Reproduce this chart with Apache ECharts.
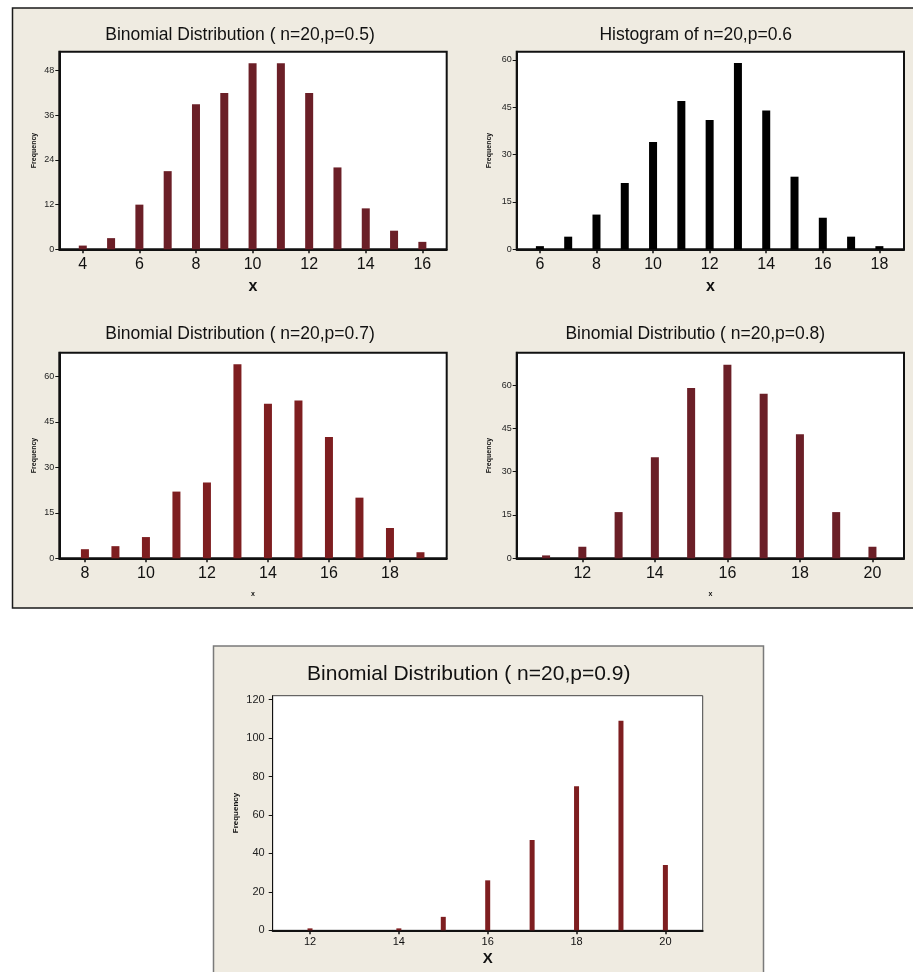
<!DOCTYPE html>
<html>
<head>
<meta charset="utf-8">
<script src="https://cdn.jsdelivr.net/npm/echarts@6/dist/echarts.min.js"></script>
<style>
html,body{margin:0;padding:0;background:#fff;}
#c{width:913px;height:972px;}
</style>
</head>
<body>
<div id="c"></div>
<script>
// ---- data ----
const x05 = [4,5,6,7,8,9,10,11,12,13,14,15,16];
const f05 = [1,3,12,21,39,42,50,50,42,22,11,5,2];
const x06 = [6,7,8,9,10,11,12,13,14,15,16,17,18];
const f06 = [1,4,11,21,34,47,41,59,44,23,10,4,1];
const x07 = [8,9,10,11,12,13,14,15,16,17,18,19];
const f07 = [3,4,7,22,25,64,51,52,40,20,10,2];
const x08 = [11,12,13,14,15,16,17,18,19,20];
const f08 = [1,4,16,35,59,67,57,43,16,4];
const x09 = [12,14,15,16,17,18,19,20];
const f09 = [1,1,7,26,47,75,109,34];

const titles = [
  'Binomial Distribution ( n=20,p=0.5)',
  'Histogram of n=20,p=0.6',
  'Binomial Distribution ( n=20,p=0.7)',
  'Binomial Distributio ( n=20,p=0.8)',
  'Binomial Distribution ( n=20,p=0.9)'
];
const xTicks05 = [4,6,8,10,12,14,16];
const xTicks06 = [6,8,10,12,14,16,18];
const xTicks07 = [8,10,12,14,16,18];
const xTicks08 = [12,14,16,18,20];
const xTicks09 = [12,14,16,18,20];
const yTicks05 = [0,12,24,36,48];
const yTicks06 = [0,15,30,45,60];
const yTicks07 = [0,15,30,45,60];
const yTicks08 = [0,15,30,45,60];
const yTicks09 = [0,20,40,60,80,100,120];

const pair = (xs, ys) => xs.map((v, i) => [v, ys[i]]);

const FONT = 'Liberation Sans';
const panels = [
  {xs:x05, ys:f05, grid:{left:59.3, top:51.7, width:387.4, height:197.6}, xr:[3.17,16.86], yr:53.1,
   xt:xTicks05, yt:yTicks05, color:'#6B1F27', bw:8, xname:'x', xnameSize:16, xnameGap:29, fgap:22, fsize:7, xlab:16, ylab:9, border:2},
  {xs:x06, ys:f06, grid:{left:516.7, top:51.7, width:387.3, height:197.6}, xr:[5.18,18.87], yr:62.6,
   xt:xTicks06, yt:yTicks06, color:'#000000', bw:8, xname:'x', xnameSize:16, xnameGap:29, fgap:24, fsize:7, xlab:16, ylab:9, border:2},
  {xs:x07, ys:f07, grid:{left:59.3, top:352.7, width:387.4, height:205.6}, xr:[7.16,19.86], yr:67.8,
   xt:xTicks07, yt:yTicks07, color:'#7E1E20', bw:8, xname:'x', xnameSize:7, xnameGap:32, fgap:22, fsize:7, xlab:16, ylab:9, border:2},
  {xs:x08, ys:f08, grid:{left:516.7, top:352.7, width:387.3, height:205.6}, xr:[10.19,20.87], yr:71.2,
   xt:xTicks08, yt:yTicks08, color:'#6B1F27', bw:8, xname:'x', xnameSize:7, xnameGap:32, fgap:24, fsize:7, xlab:16, ylab:9, border:2},
  {xs:x09, ys:f09, grid:{left:272.7, top:695.7, width:430, height:234.6}, xr:[11.16,20.84], yr:122.1,
   xt:xTicks09, yt:yTicks09, color:'#7E1E20', bw:5, xname:'X', xnameSize:15, xnameGap:21, fgap:33, fsize:8, xlab:11, ylab:11, border:1}
];
const titlePos = [[240,35,17.5],[695.7,35,17.5],[240,334,17.5],[695.3,334,17.5],[468.7,674,21]];

const option = {
  animation:false,
  backgroundColor:'#ffffff',
  graphic:[
    {type:'rect', z:-10, shape:{x:12.5, y:8, width:920, height:600}, style:{fill:'#EFEBE1', stroke:'#1a1a1a', lineWidth:1.5}},
    {type:'rect', z:-10, shape:{x:213.5, y:646, width:550, height:340}, style:{fill:'#EFEBE1', stroke:'#7a7a7a', lineWidth:1.5}}
  ].concat(titles.map((t,i)=>({
    type:'text', z:10, x:titlePos[i][0], y:titlePos[i][1],
    style:{text:t, fill:'#111', font:'normal ' + titlePos[i][2] + 'px "' + FONT + '"', textAlign:'center', textVerticalAlign:'middle'}
  }))),
  grid: panels.map(p => Object.assign({show:true, backgroundColor:'#ffffff', borderColor:p.border===2?'#111':'#444', borderWidth:p.border}, p.grid)),
  xAxis: panels.map((p,i) => ({
    type:'value', gridIndex:i, min:p.xr[0], max:p.xr[1],
    name:p.xname, nameLocation:'middle', nameGap:p.xnameGap,
    nameTextStyle:{fontWeight:'bold', fontSize:p.xnameSize, color:'#111', fontFamily:FONT},
    axisLine:{show:true, onZero:false, lineStyle:{color:'#111', width:2}},
    axisTick:{show:true, length:4, customValues:p.xt, lineStyle:{color:'#111', width:1.5}},
    axisLabel:{customValues:p.xt, fontSize:p.xlab, color:'#111', margin:p.xlab>12?7:6, fontFamily:FONT},
    splitLine:{show:false}
  })),
  yAxis: panels.map((p,i) => ({
    type:'value', gridIndex:i, min:0, max:p.yr,
    name:'Frequency', nameLocation:'middle', nameGap:p.fgap,
    nameTextStyle:{fontWeight:'bold', fontSize:p.fsize, color:'#111', fontFamily:FONT},
    axisLine:{show:true, lineStyle:{color:'#111', width:p.border}},
    axisTick:{show:true, length:4, customValues:p.yt, lineStyle:{color:'#111', width:1}},
    axisLabel:{customValues:p.yt, fontSize:p.ylab, color:'#222', margin:p.ylab>10?8:5, fontFamily:FONT},
    splitLine:{show:false}
  })),
  series: panels.map((p,i) => ({
    type:'bar', xAxisIndex:i, yAxisIndex:i, barWidth:p.bw,
    itemStyle:{color:p.color},
    data: pair(p.xs, p.ys)
  }))
};
const chart = echarts.init(document.getElementById('c'), null, {renderer:'canvas'});
chart.setOption(option);
</script>
</body>
</html>
